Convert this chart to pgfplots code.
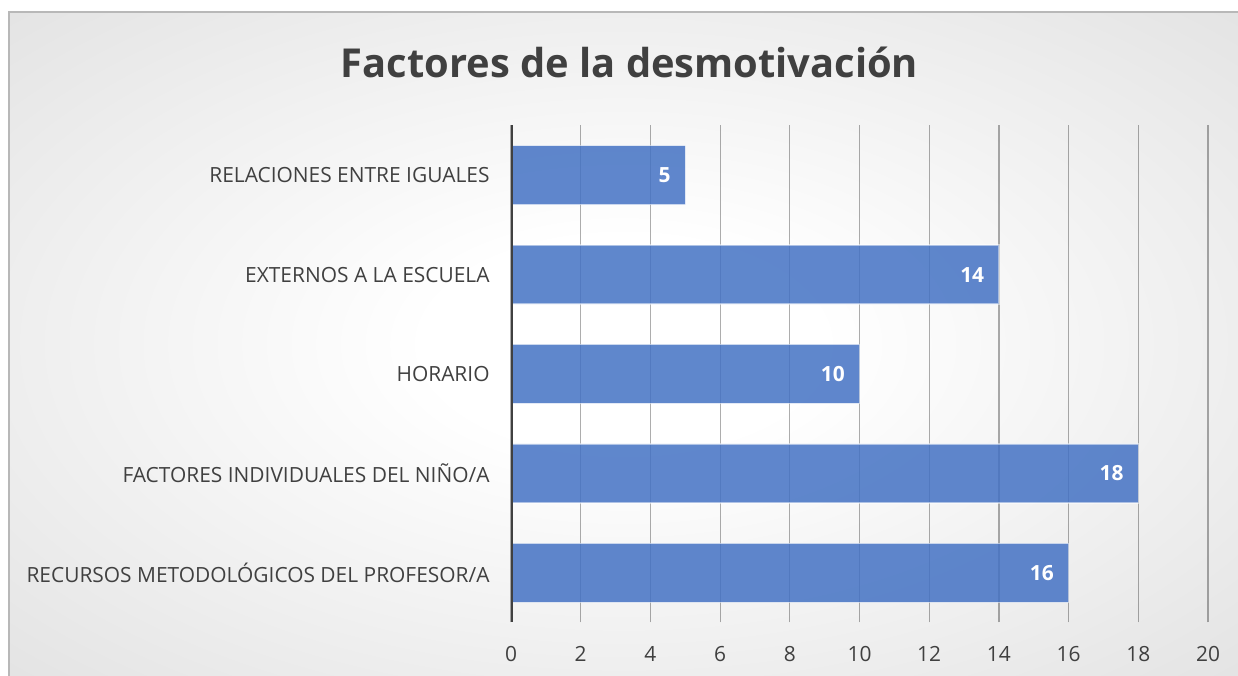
\documentclass[border=0pt]{standalone}
\usepackage{pgfplots}
\pgfplotsset{compat=1.18}
\usepackage{fontspec}
\setmainfont{Open Sans}
\definecolor{txt}{HTML}{404040}
\definecolor{barblue}{HTML}{4472C4}
\pgfdeclareradialshading{bgshade}{\pgfpoint{0bp}{0bp}}{color(0bp)=(white); color(8bp)=(white); color(72bp)=(black!25)}
\begin{document}
\begin{tikzpicture}
\path[use as bounding box] (0,0) rectangle (1238bp,676bp);
\fill[white] (0,0) rectangle (1238bp,676bp);
\shade[shading=bgshade] (9bp,0) rectangle (1238bp,664bp);
\draw[black!28, line width=1.2bp] (9bp,0) -- (9bp,664bp) -- (1238bp,664bp);
\node[anchor=base, text=txt, font=\bfseries\fontsize{40}{48}\selectfont] at (629.5bp,598bp) {Factores de la desmotivación};
\begin{axis}[
  at={(511bp,53.5bp)}, anchor=south west,
  scale only axis, width=697bp, height=497bp,
  xmin=0, xmax=20, ymin=-0.5, ymax=4.5,
  xtick={0,2,...,20}, ytick={0,1,2,3,4},
  yticklabels={RECURSOS METODOLÓGICOS DEL PROFESOR/A, FACTORES INDIVIDUALES DEL NIÑO/A, HORARIO, EXTERNOS A LA ESCUELA, RELACIONES ENTRE IGUALES},
  xmajorgrids,
  major grid style={black, opacity=0.32, line width=1.2bp},
  axis line style={draw=none},
  tick style={draw=none},
  /pgf/number format/assume math mode=true,
  ticklabel style={text=txt},
  xticklabel style={inner sep=0pt, yshift=-24bp, font=\fontsize{21}{25}\selectfont},
  yticklabel style={inner sep=0pt, xshift=-17bp, font=\fontsize{21}{25}\selectfont},
  xbar, bar width=59bp,
  nodes near coords,
  nodes near coords style={anchor=east, inner sep=0pt, xshift=-14bp, font=\bfseries\fontsize{21}{25}\selectfont, text=white, text opacity=1},
]
\addplot[fill=barblue, fill opacity=0.85, draw=white, draw opacity=0.5, line width=1.5bp]
  coordinates {(16,0) (18,1) (10,2) (14,3) (5,4)};
\draw[txt, line width=3bp] (axis cs:0,-0.5) -- (axis cs:0,4.5);
\end{axis}
\end{tikzpicture}
\end{document}
